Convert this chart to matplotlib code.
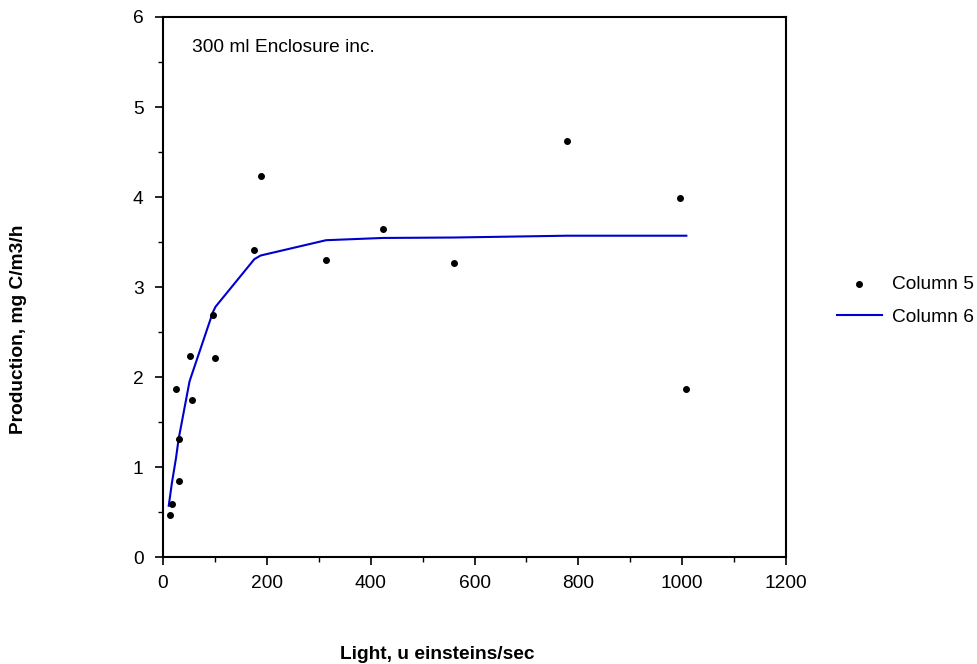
import matplotlib.pyplot as plt
from matplotlib.ticker import MultipleLocator

plt.rcParams['font.family'] = ['Liberation Sans', 'DejaVu Sans']

# measured points (Column 5)
light = [13, 17, 25, 30, 30, 51, 55, 96, 101, 176, 188, 314, 423, 561, 778, 996, 1008]
prod = [0.47, 0.59, 1.87, 1.31, 0.85, 2.23, 1.75, 2.69, 2.21, 3.41, 4.23, 3.30, 3.65, 3.27, 4.62, 3.99, 1.87]

# fitted curve (Column 6)
fit_x = [11, 17, 25, 30, 51, 55, 96, 101, 176, 188, 314, 423, 561, 778, 1008]
fit_y = [0.57, 0.82, 1.10, 1.31, 1.95, 2.02, 2.72, 2.78, 3.31, 3.35, 3.52, 3.545, 3.55, 3.57, 3.57]

fs = 13.8

fig = plt.figure(figsize=(9.78, 6.64), dpi=100)
ax = fig.add_axes([0.1667, 0.1611, 0.637, 0.8133])

ax.scatter(light, prod, s=16, color='black', label='Column 5', zorder=3)
ax.plot(fit_x, fit_y, color='#0000cc', lw=1.5, label='Column 6')

ax.set_xlim(0, 1200)
ax.set_ylim(0, 6)
ax.xaxis.set_major_locator(MultipleLocator(200))
ax.xaxis.set_minor_locator(MultipleLocator(100))
ax.yaxis.set_major_locator(MultipleLocator(1))
ax.yaxis.set_minor_locator(MultipleLocator(0.5))
ax.tick_params(which='major', length=6, width=1.2, labelsize=fs, direction='out')
ax.tick_params(which='minor', length=3.5, width=1.0, direction='out')
ax.tick_params(axis='y', pad=8)
ax.tick_params(axis='x', pad=7)
for s in ax.spines.values():
    s.set_linewidth(1.5)

ax.text(0.046, 0.9357, '300 ml Enclosure inc.', transform=ax.transAxes,
        fontsize=fs, va='baseline', ha='left')

fig.text(0.4469, 0.0075, 'Light, u einsteins/sec', fontsize=fs, fontweight='bold',
         ha='center', va='baseline')
fig.text(0.0194, 0.5045, 'Production, mg C/m3/h', fontsize=fs, fontweight='bold',
         rotation=90, ha='center', va='center')

fig.legend(loc='center left', bbox_to_anchor=(0.8555, 0.5469), frameon=False,
           fontsize=fs, handlelength=2.35, handletextpad=0.52, labelspacing=0.82,
           borderpad=0, borderaxespad=0)

fig.savefig('out.png', dpi=100)
